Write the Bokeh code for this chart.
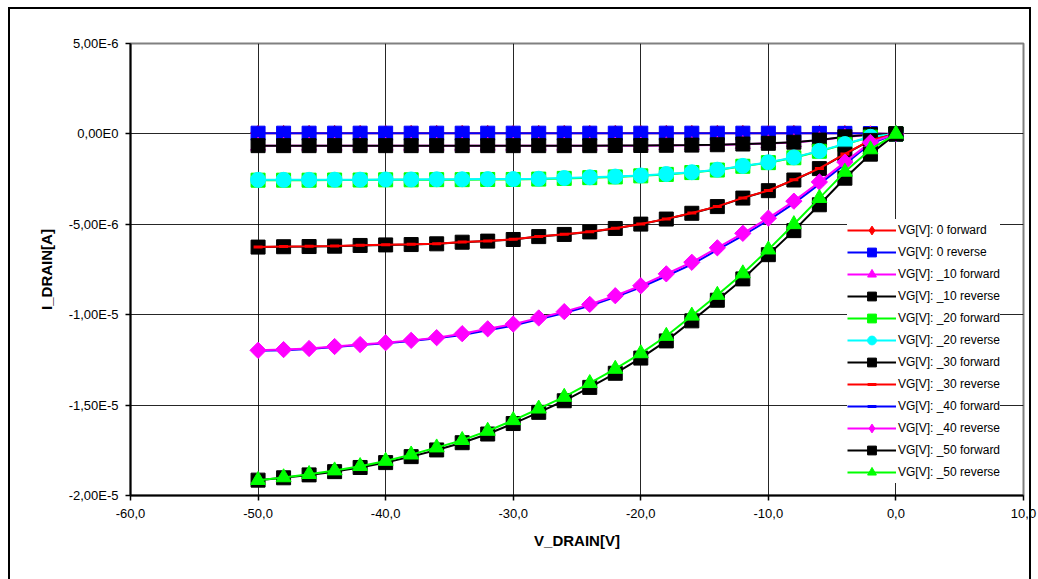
from bokeh.plotting import figure
from bokeh.models import Range1d, FixedTicker, LegendItem, Legend, InlineStyleSheet
from bokeh.embed import file_html
from bokeh.resources import INLINE
import math

V_DRAIN = [-50, -48, -46, -44, -42, -40, -38, -36, -34, -32, -30, -28, -26,
           -24, -22, -20, -18, -16, -14, -12, -10, -8, -6, -4, -2, 0]

I_0_FWD = [4e-8, 4e-8, 4e-8, 4e-8, 4e-8, 4e-8, 4e-8, 4e-8, 4e-8, 4e-8, 4e-8, 4e-8, 4e-8,
           4e-8, 4e-8, 4e-8, 4e-8, 4e-8, 4e-8, 4e-8, 4e-8, 4e-8, 3e-8, 3e-8, 2e-8, 0.0]
I_0_REV = [4e-8, 4e-8, 4e-8, 4e-8, 4e-8, 4e-8, 4e-8, 4e-8, 4e-8, 4e-8, 4e-8, 4e-8, 4e-8,
           4e-8, 4e-8, 4e-8, 4e-8, 4e-8, 4e-8, 4e-8, 4e-8, 4e-8, 3e-8, 3e-8, 2e-8, 0.0]
I_10_FWD = [-6.6e-7, -6.6e-7, -6.6e-7, -6.6e-7, -6.6e-7, -6.6e-7, -6.6e-7, -6.6e-7, -6.6e-7,
            -6.6e-7, -6.6e-7, -6.6e-7, -6.6e-7, -6.6e-7, -6.5e-7, -6.5e-7, -6.4e-7, -6.3e-7,
            -6.1e-7, -5.7e-7, -5.3e-7, -4.7e-7, -3.5e-7, -1.7e-7, -5e-8, 0.0]
I_10_REV = [-6.5e-7, -6.5e-7, -6.5e-7, -6.5e-7, -6.5e-7, -6.5e-7, -6.5e-7, -6.5e-7, -6.5e-7,
            -6.5e-7, -6.5e-7, -6.5e-7, -6.5e-7, -6.5e-7, -6.4e-7, -6.4e-7, -6.3e-7, -6.2e-7,
            -6.0e-7, -5.6e-7, -5.2e-7, -4.6e-7, -3.4e-7, -1.6e-7, -4e-8, 0.0]
I_20_FWD = [-2.56e-6, -2.56e-6, -2.56e-6, -2.55e-6, -2.55e-6, -2.54e-6, -2.54e-6, -2.53e-6,
            -2.53e-6, -2.52e-6, -2.52e-6, -2.50e-6, -2.46e-6, -2.42e-6, -2.38e-6, -2.32e-6,
            -2.24e-6, -2.14e-6, -2.00e-6, -1.79e-6, -1.59e-6, -1.32e-6, -0.96e-6, -0.58e-6,
            -0.18e-6, 0.0]
I_20_REV = [-2.54e-6, -2.54e-6, -2.54e-6, -2.53e-6, -2.53e-6, -2.52e-6, -2.52e-6, -2.51e-6,
            -2.51e-6, -2.50e-6, -2.50e-6, -2.48e-6, -2.44e-6, -2.40e-6, -2.36e-6, -2.30e-6,
            -2.22e-6, -2.12e-6, -1.98e-6, -1.77e-6, -1.57e-6, -1.30e-6, -0.94e-6, -0.56e-6,
            -0.16e-6, 0.0]
I_30_FWD = [-6.26e-6, -6.24e-6, -6.23e-6, -6.21e-6, -6.17e-6, -6.14e-6, -6.12e-6, -6.08e-6,
            -5.99e-6, -5.93e-6, -5.84e-6, -5.68e-6, -5.56e-6, -5.42e-6, -5.23e-6, -4.99e-6,
            -4.71e-6, -4.39e-6, -4.02e-6, -3.55e-6, -3.14e-6, -2.55e-6, -1.92e-6, -1.12e-6,
            -0.36e-6, 0.0]
I_30_REV = [-6.25e-6, -6.23e-6, -6.22e-6, -6.20e-6, -6.16e-6, -6.13e-6, -6.11e-6, -6.07e-6,
            -5.98e-6, -5.92e-6, -5.83e-6, -5.67e-6, -5.55e-6, -5.41e-6, -5.22e-6, -4.98e-6,
            -4.70e-6, -4.38e-6, -4.01e-6, -3.54e-6, -3.13e-6, -2.54e-6, -1.91e-6, -1.11e-6,
            -0.35e-6, 0.0]
I_40_FWD = [-12.00e-6, -11.96e-6, -11.90e-6, -11.79e-6, -11.68e-6, -11.58e-6, -11.45e-6,
            -11.30e-6, -11.13e-6, -10.86e-6, -10.60e-6, -10.26e-6, -9.91e-6, -9.51e-6,
            -9.03e-6, -8.48e-6, -7.86e-6, -7.22e-6, -6.42e-6, -5.62e-6, -4.78e-6, -3.84e-6,
            -2.78e-6, -1.68e-6, -0.55e-6, 0.0]
I_40_REV = [-11.97e-6, -11.93e-6, -11.87e-6, -11.76e-6, -11.65e-6, -11.55e-6, -11.42e-6,
            -11.27e-6, -11.05e-6, -10.78e-6, -10.52e-6, -10.18e-6, -9.83e-6, -9.43e-6,
            -8.95e-6, -8.40e-6, -7.74e-6, -7.10e-6, -6.30e-6, -5.50e-6, -4.66e-6, -3.72e-6,
            -2.66e-6, -1.56e-6, -0.47e-6, 0.0]
I_50_FWD = [-19.15e-6, -19.02e-6, -18.86e-6, -18.68e-6, -18.45e-6, -18.18e-6, -17.85e-6,
            -17.48e-6, -17.08e-6, -16.60e-6, -16.02e-6, -15.40e-6, -14.76e-6, -14.02e-6,
            -13.24e-6, -12.40e-6, -11.45e-6, -10.34e-6, -9.20e-6, -8.02e-6, -6.68e-6,
            -5.35e-6, -3.92e-6, -2.45e-6, -1.12e-6, 0.0]
I_50_REV = [-19.15e-6, -19.00e-6, -18.82e-6, -18.62e-6, -18.38e-6, -18.09e-6, -17.74e-6,
            -17.35e-6, -16.94e-6, -16.43e-6, -15.84e-6, -15.20e-6, -14.55e-6, -13.79e-6,
            -13.00e-6, -12.14e-6, -11.18e-6, -10.06e-6, -8.91e-6, -7.72e-6, -6.40e-6,
            -5.00e-6, -3.55e-6, -2.10e-6, -0.86e-6, 0.0]

SERIES_LABELS = ["VG[V]: 0 forward", "VG[V]: 0 reverse", "VG[V]: _10 forward",
                 "VG[V]: _10 reverse", "VG[V]: _20 forward", "VG[V]: _20 reverse",
                 "VG[V]: _30 forward", "VG[V]: _30 reverse", "VG[V]: _40 forward",
                 "VG[V]: _40 reverse", "VG[V]: _50 forward", "VG[V]: _50 reverse"]
SERIES_DATA = [I_0_FWD, I_0_REV, I_10_FWD, I_10_REV, I_20_FWD, I_20_REV,
               I_30_FWD, I_30_REV, I_40_FWD, I_40_REV, I_50_FWD, I_50_REV]

X_TICKS = [-60, -50, -40, -30, -20, -10, 0, 10]
X_TICK_LABELS = ["-60,0", "-50,0", "-40,0", "-30,0", "-20,0", "-10,0", "0,0", "10,0"]
Y_TICKS = [-2e-5, -1.5e-5, -1e-5, -5e-6, 0, 5e-6]
Y_TICK_LABELS = ["-2,00E-5", "-1,50E-5", "-1,00E-5", "-5,00E-6", "0,00E0", "5,00E-6"]

# style per series: color, plot marker, size, angle, legend marker
STYLES = [
    ("#FF0000", "square", 11, math.pi / 4, "diamond"),
    ("#0000FF", "square", 14, 0, None),
    ("#FF00FF", "triangle", 15, 0, None),
    ("#000000", "square", 14, 0, None),
    ("#00FF00", "square", 14, 0, None),
    ("#00FFFF", "circle", 15, 0, None),
    ("#000000", "square", 14, 0, None),
    ("#FF0000", "dash", 9, 0, None),
    ("#0000FF", "dash", 9, 0, None),
    ("#FF00FF", "square", 11.5, math.pi / 4, "diamond"),
    ("#000000", "square", 14, 0, None),
    ("#00FF00", "triangle", 15, 0, None),
]

FONT = "Liberation Sans"

# outer chart-area border (left, top and right edges; the bottom one lies below the page)
frame_css = InlineStyleSheet(css="""
:host { position: relative; }
:host::after {
  content: "";
  position: absolute;
  left: 8px; top: 7px; width: 1023px; height: 572px;
  box-sizing: border-box;
  border: 2.5px solid #000;
  border-bottom: none;
  pointer-events: none;
  z-index: 1000;
}
""")

p = figure(width=1038, height=579, output_backend="svg", toolbar_location=None,
           x_range=Range1d(-60, 10), y_range=Range1d(-2e-5, 5e-6),
           min_border_left=130, min_border_right=15, min_border_top=43, min_border_bottom=84,
           background_fill_color="white", border_fill_color="white",
           stylesheets=[frame_css])

p.outline_line_color = "#808080"
p.outline_line_width = 2

for ax in (p.xaxis[0], p.yaxis[0]):
    ax.axis_line_color = "#000000"
    ax.axis_line_width = 2
    ax.major_tick_line_color = "#000000"
    ax.major_tick_line_width = 1.5
    ax.major_tick_in = 0
    ax.major_tick_out = 5
    ax.minor_tick_line_color = None
    ax.major_label_text_font = FONT
    ax.major_label_text_font_size = "13px"
    ax.major_label_text_color = "#000000"
    ax.axis_label_text_font = FONT
    ax.axis_label_text_font_size = "15px"
    ax.axis_label_text_font_style = "bold"
    ax.axis_label_text_color = "#000000"
    ax.axis_label_standoff = 11

p.xaxis.ticker = FixedTicker(ticks=X_TICKS)
p.yaxis.ticker = FixedTicker(ticks=Y_TICKS)
p.xaxis.major_label_overrides = dict(zip(X_TICKS, X_TICK_LABELS))
p.yaxis.major_label_overrides = dict(zip(Y_TICKS, Y_TICK_LABELS))
p.xaxis.major_label_standoff = 8
p.yaxis.major_label_standoff = 7
p.xaxis.axis_label = "V_DRAIN[V]"
p.yaxis.axis_label = "I_DRAIN[A]"

p.xgrid.ticker = FixedTicker(ticks=X_TICKS)
p.ygrid.ticker = FixedTicker(ticks=Y_TICKS)
for g in (p.xgrid[0], p.ygrid[0]):
    g.grid_line_color = "#000000"
    g.grid_line_width = 1
    g.grid_line_alpha = 0.85

items = []
for label, data, (color, marker, size, angle, lmarker) in zip(SERIES_LABELS, SERIES_DATA, STYLES):
    lr = p.line(V_DRAIN, data, line_color=color, line_width=2)
    if marker == "dash":
        sr = p.scatter(V_DRAIN, data, marker="dash", size=size, line_color=color, line_width=3)
    else:
        sr = p.scatter(V_DRAIN, data, marker=marker, size=size, angle=angle,
                       fill_color=color, line_color=color, line_width=1)
    if lmarker is not None:
        # legend-only glyph placed outside the visible x range
        sr = p.scatter([-100], [0], marker=lmarker, size=size, fill_color=color,
                       line_color=color, line_width=1)
    items.append(LegendItem(label=label, renderers=[lr, sr]))

lg = Legend(items=items)
p.add_layout(lg, "center")
lg.location = (717, 12)
lg.background_fill_color = "white"
lg.background_fill_alpha = 1
lg.border_line_color = None
lg.label_text_font = FONT
lg.label_text_font_size = "12px"
lg.label_text_color = "#000000"
lg.glyph_width = 49
lg.glyph_height = 22
lg.label_height = 22
lg.spacing = 0
lg.padding = 6
lg.label_standoff = 2
lg.margin = 0

open("out.html", "w").write(file_html(p, INLINE))
